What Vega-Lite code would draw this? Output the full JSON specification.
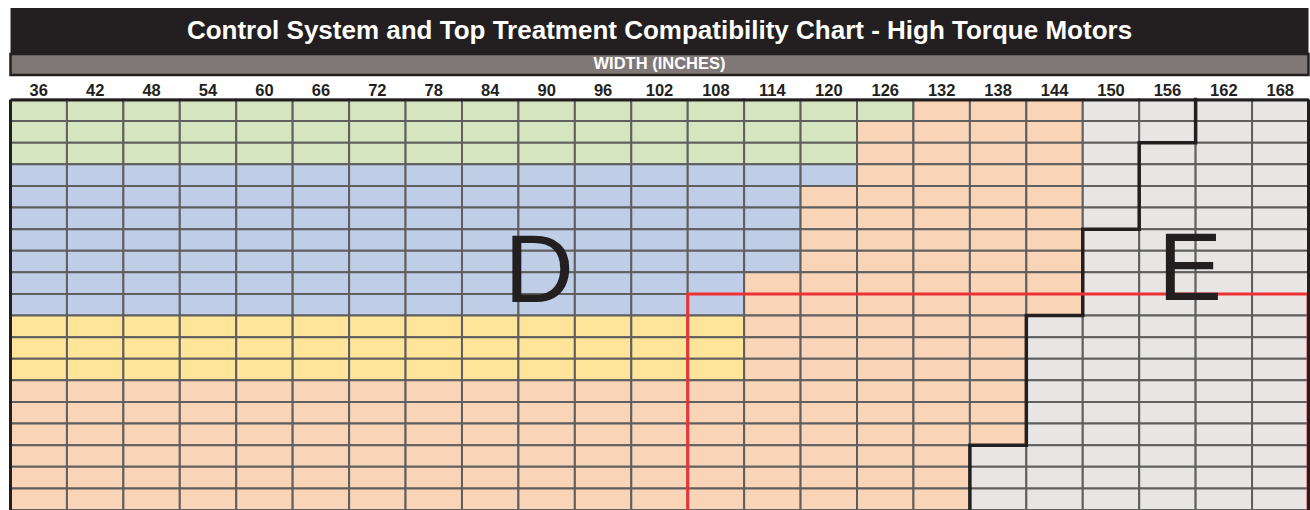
{
  "$schema": "https://vega.github.io/schema/vega-lite/v6.json",
  "autosize": {"type": "pad"},
  "padding": {"top": 8, "left": 8.5, "right": 0, "bottom": 0},
  "background": "white",
  "config": {"font": "Liberation Sans", "view": {"stroke": null}},
  "bounds": "flush",
  "spacing": 0,
  "vconcat": [
    {
      "width": 1298,
      "height": 46,
      "view": {"fill": "#231f20", "stroke": null},
      "data": {"values": [{"t": "Control System and Top Treatment Compatibility Chart - High Torque Motors"}]},
      "mark": {"type": "text", "color": "#ffffff", "font": "Liberation Sans", "fontSize": 26, "fontWeight": "bold", "dy": -0.3},
      "encoding": {"text": {"field": "t"}}
    },
    {
      "width": 1298,
      "height": 21,
      "view": {"fill": "#807876", "stroke": "#231f20", "strokeWidth": 2.5},
      "data": {"values": [{"t": "WIDTH (INCHES)"}]},
      "mark": {"type": "text", "color": "#ffffff", "font": "Liberation Sans", "fontSize": 16.5, "fontWeight": "bold", "dy": -0.8},
      "encoding": {"text": {"field": "t"}}
    },
    {
      "width": 1298,
      "height": 435,
      "resolve": {"scale": {"x": "independent", "y": "independent"}},
      "layer": [
        {
          "data": {"values": [
            {"row": 1, "w": [36,42,48,54,60,66,72,78,84,90,96,102,108,114,120,126,132,138,144,150,156,162,168], "z": ["G","G","G","G","G","G","G","G","G","G","G","G","G","G","G","G","O","O","O","X","X","X","X"]},
            {"row": 2, "w": [36,42,48,54,60,66,72,78,84,90,96,102,108,114,120,126,132,138,144,150,156,162,168], "z": ["G","G","G","G","G","G","G","G","G","G","G","G","G","G","G","O","O","O","O","X","X","X","X"]},
            {"row": 3, "w": [36,42,48,54,60,66,72,78,84,90,96,102,108,114,120,126,132,138,144,150,156,162,168], "z": ["G","G","G","G","G","G","G","G","G","G","G","G","G","G","G","O","O","O","O","X","X","X","X"]},
            {"row": 4, "w": [36,42,48,54,60,66,72,78,84,90,96,102,108,114,120,126,132,138,144,150,156,162,168], "z": ["B","B","B","B","B","B","B","B","B","B","B","B","B","B","B","O","O","O","O","X","X","X","X"]},
            {"row": 5, "w": [36,42,48,54,60,66,72,78,84,90,96,102,108,114,120,126,132,138,144,150,156,162,168], "z": ["B","B","B","B","B","B","B","B","B","B","B","B","B","B","O","O","O","O","O","X","X","X","X"]},
            {"row": 6, "w": [36,42,48,54,60,66,72,78,84,90,96,102,108,114,120,126,132,138,144,150,156,162,168], "z": ["B","B","B","B","B","B","B","B","B","B","B","B","B","B","O","O","O","O","O","X","X","X","X"]},
            {"row": 7, "w": [36,42,48,54,60,66,72,78,84,90,96,102,108,114,120,126,132,138,144,150,156,162,168], "z": ["B","B","B","B","B","B","B","B","B","B","B","B","B","B","O","O","O","O","O","X","X","X","X"]},
            {"row": 8, "w": [36,42,48,54,60,66,72,78,84,90,96,102,108,114,120,126,132,138,144,150,156,162,168], "z": ["B","B","B","B","B","B","B","B","B","B","B","B","B","B","O","O","O","O","O","X","X","X","X"]},
            {"row": 9, "w": [36,42,48,54,60,66,72,78,84,90,96,102,108,114,120,126,132,138,144,150,156,162,168], "z": ["B","B","B","B","B","B","B","B","B","B","B","B","B","O","O","O","O","O","O","X","X","X","X"]},
            {"row": 10, "w": [36,42,48,54,60,66,72,78,84,90,96,102,108,114,120,126,132,138,144,150,156,162,168], "z": ["B","B","B","B","B","B","B","B","B","B","B","B","B","O","O","O","O","O","O","X","X","X","X"]},
            {"row": 11, "w": [36,42,48,54,60,66,72,78,84,90,96,102,108,114,120,126,132,138,144,150,156,162,168], "z": ["Y","Y","Y","Y","Y","Y","Y","Y","Y","Y","Y","Y","Y","O","O","O","O","O","X","X","X","X","X"]},
            {"row": 12, "w": [36,42,48,54,60,66,72,78,84,90,96,102,108,114,120,126,132,138,144,150,156,162,168], "z": ["Y","Y","Y","Y","Y","Y","Y","Y","Y","Y","Y","Y","Y","O","O","O","O","O","X","X","X","X","X"]},
            {"row": 13, "w": [36,42,48,54,60,66,72,78,84,90,96,102,108,114,120,126,132,138,144,150,156,162,168], "z": ["Y","Y","Y","Y","Y","Y","Y","Y","Y","Y","Y","Y","Y","O","O","O","O","O","X","X","X","X","X"]},
            {"row": 14, "w": [36,42,48,54,60,66,72,78,84,90,96,102,108,114,120,126,132,138,144,150,156,162,168], "z": ["O","O","O","O","O","O","O","O","O","O","O","O","O","O","O","O","O","O","X","X","X","X","X"]},
            {"row": 15, "w": [36,42,48,54,60,66,72,78,84,90,96,102,108,114,120,126,132,138,144,150,156,162,168], "z": ["O","O","O","O","O","O","O","O","O","O","O","O","O","O","O","O","O","O","X","X","X","X","X"]},
            {"row": 16, "w": [36,42,48,54,60,66,72,78,84,90,96,102,108,114,120,126,132,138,144,150,156,162,168], "z": ["O","O","O","O","O","O","O","O","O","O","O","O","O","O","O","O","O","O","X","X","X","X","X"]},
            {"row": 17, "w": [36,42,48,54,60,66,72,78,84,90,96,102,108,114,120,126,132,138,144,150,156,162,168], "z": ["O","O","O","O","O","O","O","O","O","O","O","O","O","O","O","O","O","X","X","X","X","X","X"]},
            {"row": 18, "w": [36,42,48,54,60,66,72,78,84,90,96,102,108,114,120,126,132,138,144,150,156,162,168], "z": ["O","O","O","O","O","O","O","O","O","O","O","O","O","O","O","O","O","X","X","X","X","X","X"]},
            {"row": 19, "w": [36,42,48,54,60,66,72,78,84,90,96,102,108,114,120,126,132,138,144,150,156,162,168], "z": ["O","O","O","O","O","O","O","O","O","O","O","O","O","O","O","O","O","X","X","X","X","X","X"]}
          ]},
          "transform": [{"flatten": ["w", "z"]}],
          "mark": {"type": "rect", "stroke": "#5f5f5f", "strokeWidth": 2, "clip": true},
          "encoding": {
            "x": {
              "field": "w", "type": "ordinal", "sort": "ascending",
              "scale": {"paddingInner": 0, "paddingOuter": 0},
              "axis": {"orient": "top", "offset": -24.5, "title": null, "labelAngle": 0, "labelFont": "Liberation Sans", "labelFontSize": 16.5, "labelFontWeight": "bold", "labelColor": "#231f20", "ticks": false, "tickSize": 0, "labelPadding": 4.5, "labelBaseline": "alphabetic", "domainColor": "#231f20", "domainWidth": 3, "zindex": 1, "grid": false}
            },
            "y": {
              "field": "row", "type": "ordinal", "sort": "ascending",
              "scale": {"paddingInner": 0, "paddingOuter": 0.567, "align": 1},
              "axis": null
            },
            "fill": {
              "field": "z", "type": "nominal", "legend": null,
              "scale": {"domain": ["G", "B", "Y", "O", "X"], "range": ["#d5e5bf", "#bfcde7", "#fee59a", "#f9d4b7", "#e7e6e5"]}
            }
          }
        },
        {
          "layer": [
            {
              "data": {"values": [
                {"i": 1, "xb": 159, "yb": 0},
                {"i": 2, "xb": 159, "yb": 2},
                {"i": 3, "xb": 153, "yb": 2},
                {"i": 4, "xb": 153, "yb": 6},
                {"i": 5, "xb": 147, "yb": 6},
                {"i": 6, "xb": 147, "yb": 10},
                {"i": 7, "xb": 141, "yb": 10},
                {"i": 8, "xb": 141, "yb": 16},
                {"i": 9, "xb": 135, "yb": 16},
                {"i": 10, "xb": 135, "yb": 20}
              ]},
              "mark": {"type": "line", "color": "#231f20", "strokeWidth": 3.5, "strokeCap": "square", "strokeJoin": "miter", "clip": true},
              "encoding": {
                "x": {"field": "xb", "type": "quantitative", "scale": {"domain": [33, 171], "nice": false, "zero": false}, "axis": null},
                "y": {"field": "yb", "type": "quantitative", "scale": {"domain": [-1.134, 19], "nice": false, "zero": false, "reverse": true}, "axis": null},
                "order": {"field": "i"}
              }
            },
            {
              "data": {"values": [{"x0": 105, "x1": 170.95, "y0": 9, "y1": 20}]},
              "mark": {"type": "rect", "fill": null, "fillOpacity": 0, "stroke": "#ed3237", "strokeWidth": 3, "clip": true},
              "encoding": {
                "x": {"field": "x0", "type": "quantitative"},
                "x2": {"field": "x1"},
                "y": {"field": "y0", "type": "quantitative"},
                "y2": {"field": "y1"}
              }
            },
            {
              "data": {"values": [{"edge": 33}, {"edge": 171}]},
              "mark": {"type": "rule", "color": "#231f20", "strokeWidth": 3},
              "encoding": {
                "x": {"field": "edge", "type": "quantitative"},
                "y": {"datum": 0},
                "y2": {"datum": 19}
              }
            },
            {
              "data": {"values": [
                {"l": "D", "xb": 89.2, "yb": 9.36},
                {"l": "E", "xb": 158.4, "yb": 9.28}
              ]},
              "mark": {"type": "text", "font": "Liberation Sans", "fontSize": 96, "fontWeight": "normal", "color": "#231f20", "baseline": "alphabetic", "align": "center"},
              "encoding": {
                "x": {"field": "xb", "type": "quantitative"},
                "y": {"field": "yb", "type": "quantitative"},
                "text": {"field": "l"}
              }
            }
          ]
        }
      ]
    }
  ]
}
